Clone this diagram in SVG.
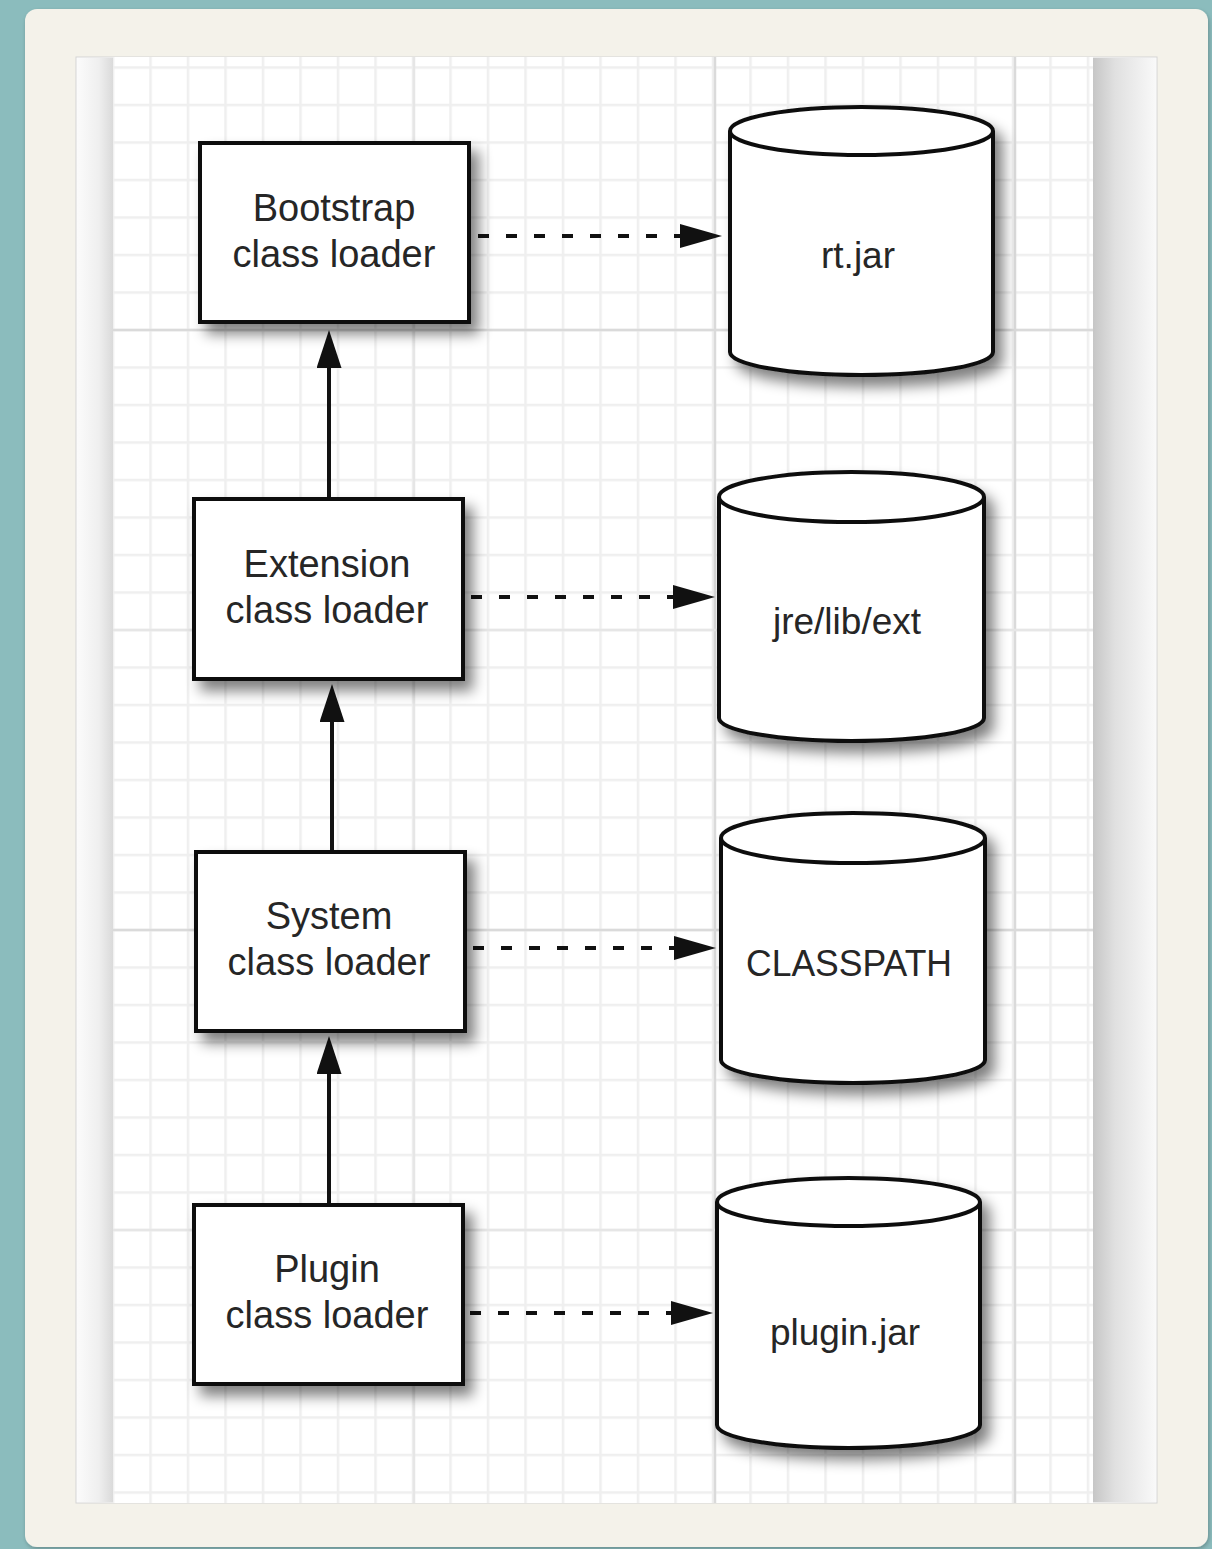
<svg xmlns="http://www.w3.org/2000/svg" width="1212" height="1549" viewBox="0 0 1212 1549">
  <defs>
    <style>
      .box { fill: #ffffff; stroke: #111111; stroke-width: 4; }
      .cyl { fill: #ffffff; stroke: #111111; stroke-width: 4; stroke-linejoin: round; }
      .lbl { font-family: "Liberation Sans", Arial, Helvetica, sans-serif; font-size: 38px; fill: #262626; text-anchor: middle; }
      .clbl { font-family: "Liberation Sans", Arial, Helvetica, sans-serif; font-size: 37px; fill: #262626; text-anchor: middle; }
      .solid { stroke: #111111; stroke-width: 4; fill: none; }
      .dash { stroke: #111111; stroke-width: 4; fill: none; stroke-dasharray: 11 17; }
      .major { stroke: #dadada; stroke-width: 2.5; }
      .major2 { stroke: #e6e6e6; stroke-width: 2.5; }
    </style>
    <pattern id="grid" patternUnits="userSpaceOnUse" x="111.75" y="28.75" width="37.5" height="37.5">
      <rect x="0" y="0" width="37.5" height="37.5" fill="#ffffff"/>
      <rect x="0" y="0" width="2.5" height="37.5" fill="#efefef"/>
      <rect x="0" y="0" width="37.5" height="2.5" fill="#efefef"/>
    </pattern>
    <linearGradient id="leftShade" x1="0" y1="0" x2="1" y2="0">
      <stop offset="0" stop-color="#fbfbfb"/>
      <stop offset="0.6" stop-color="#efefef"/>
      <stop offset="1" stop-color="#dadada"/>
    </linearGradient>
    <linearGradient id="rightShade" x1="0" y1="0" x2="1" y2="0">
      <stop offset="0" stop-color="#c6c6c6"/>
      <stop offset="0.35" stop-color="#e0e0e0"/>
      <stop offset="1" stop-color="#f9f9f9"/>
    </linearGradient>
    <filter id="shadow" x="-20%" y="-20%" width="150%" height="150%">
      <feGaussianBlur in="SourceAlpha" stdDeviation="7"/>
      <feOffset dx="8" dy="10" result="b"/>
      <feComponentTransfer><feFuncA type="linear" slope="0.5"/></feComponentTransfer>
      <feMerge><feMergeNode/><feMergeNode in="SourceGraphic"/></feMerge>
    </filter>
    <filter id="cardShadow" x="-5%" y="-5%" width="110%" height="110%">
      <feGaussianBlur in="SourceAlpha" stdDeviation="2"/>
      <feOffset dx="1" dy="2"/>
      <feComponentTransfer><feFuncA type="linear" slope="0.25"/></feComponentTransfer>
      <feMerge><feMergeNode/><feMergeNode in="SourceGraphic"/></feMerge>
    </filter>
    <marker id="headSolid" markerUnits="userSpaceOnUse" markerWidth="40" markerHeight="26" refX="0" refY="12.5" orient="auto">
      <path d="M0,0 L38,12.5 L0,25 Z" fill="#111111"/>
    </marker>
    <marker id="headDash" markerUnits="userSpaceOnUse" markerWidth="44" markerHeight="26" refX="0" refY="12" orient="auto">
      <path d="M0,0 L42,12 L0,24 Z" fill="#111111"/>
    </marker>
  </defs>

  <!-- background -->
  <rect x="0" y="0" width="1212" height="1549" fill="#8bbcbd"/>
  <rect x="25" y="9" width="1183" height="1538" rx="12" ry="12" fill="#f4f2ea" filter="url(#cardShadow)"/>

  <!-- paper -->
  <rect x="76" y="57" width="1081" height="1446" fill="#ffffff" stroke="#d4d4d4" stroke-width="1"/>
  <rect x="113" y="57" width="980" height="1446" fill="url(#grid)"/>
  <g id="majorGrid">
    <line class="major2" x1="414" y1="57" x2="414" y2="1503"/>
    <line class="major" x1="715" y1="57" x2="715" y2="1503"/>
    <line class="major" x1="1015" y1="57" x2="1015" y2="1503"/>
    <line class="major" x1="113" y1="330" x2="1093" y2="330"/>
    <line class="major2" x1="113" y1="630" x2="1093" y2="630"/>
    <line class="major" x1="113" y1="930" x2="1093" y2="930"/>
    <line class="major2" x1="113" y1="1230" x2="1093" y2="1230"/>
  </g>
  <rect x="77" y="58" width="36" height="1444" fill="url(#leftShade)"/>
  <rect x="1093" y="58" width="63" height="1444" fill="url(#rightShade)"/>

  <!-- connectors -->
  <g id="connectors">
    <line class="solid" x1="329" y1="499" x2="329" y2="368" marker-end="url(#headSolid)"/>
    <line class="solid" x1="332" y1="852" x2="332" y2="722" marker-end="url(#headSolid)"/>
    <line class="solid" x1="329" y1="1205" x2="329" y2="1074" marker-end="url(#headSolid)"/>
    <line class="dash" x1="478" y1="236" x2="680" y2="236" marker-end="url(#headDash)"/>
    <line class="dash" x1="471" y1="597" x2="673" y2="597" marker-end="url(#headDash)"/>
    <line class="dash" x1="473" y1="948" x2="674" y2="948" marker-end="url(#headDash)"/>
    <line class="dash" x1="470" y1="1313" x2="671" y2="1313" marker-end="url(#headDash)"/>
  </g>

  <!-- loader boxes -->
  <g id="bootstrap">
    <rect class="box" x="200" y="143" width="269" height="179" filter="url(#shadow)"/>
    <text class="lbl" x="334" y="221">Bootstrap</text>
    <text class="lbl" x="334" y="267">class loader</text>
  </g>
  <g id="extension">
    <rect class="box" x="194" y="499" width="269" height="180" filter="url(#shadow)"/>
    <text class="lbl" x="327" y="577">Extension</text>
    <text class="lbl" x="327" y="623">class loader</text>
  </g>
  <g id="system">
    <rect class="box" x="196" y="852" width="269" height="179" filter="url(#shadow)"/>
    <text class="lbl" x="329" y="929">System</text>
    <text class="lbl" x="329" y="975">class loader</text>
  </g>
  <g id="plugin">
    <rect class="box" x="194" y="1205" width="269" height="179" filter="url(#shadow)"/>
    <text class="lbl" x="327" y="1282">Plugin</text>
    <text class="lbl" x="327" y="1328">class loader</text>
  </g>

  <!-- repositories (cylinders) -->
  <g id="rtjar">
    <g filter="url(#shadow)">
      <path class="cyl" d="M730,131 V352 A131.5,23 0 0 0 993,352 V131"/>
      <ellipse class="cyl" cx="861.5" cy="131" rx="131.5" ry="24"/>
    </g>
    <text class="clbl" x="858" y="268">rt.jar</text>
  </g>
  <g id="jrelibext">
    <g filter="url(#shadow)">
      <path class="cyl" d="M719,497 V718 A132.5,23 0 0 0 984,718 V497"/>
      <ellipse class="cyl" cx="851.5" cy="497" rx="132.5" ry="25"/>
    </g>
    <text class="clbl" x="847" y="634">jre/lib/ext</text>
  </g>
  <g id="classpath">
    <g filter="url(#shadow)">
      <path class="cyl" d="M721,838 V1060 A132,23 0 0 0 985,1060 V838"/>
      <ellipse class="cyl" cx="853" cy="838" rx="132" ry="25"/>
    </g>
    <text class="clbl" x="849" y="976" textLength="206" lengthAdjust="spacingAndGlyphs">CLASSPATH</text>
  </g>
  <g id="pluginjar">
    <g filter="url(#shadow)">
      <path class="cyl" d="M717,1202 V1425 A131.5,23 0 0 0 980,1425 V1202"/>
      <ellipse class="cyl" cx="848.5" cy="1202" rx="131.5" ry="24"/>
    </g>
    <text class="clbl" x="845" y="1345">plugin.jar</text>
  </g>
</svg>
